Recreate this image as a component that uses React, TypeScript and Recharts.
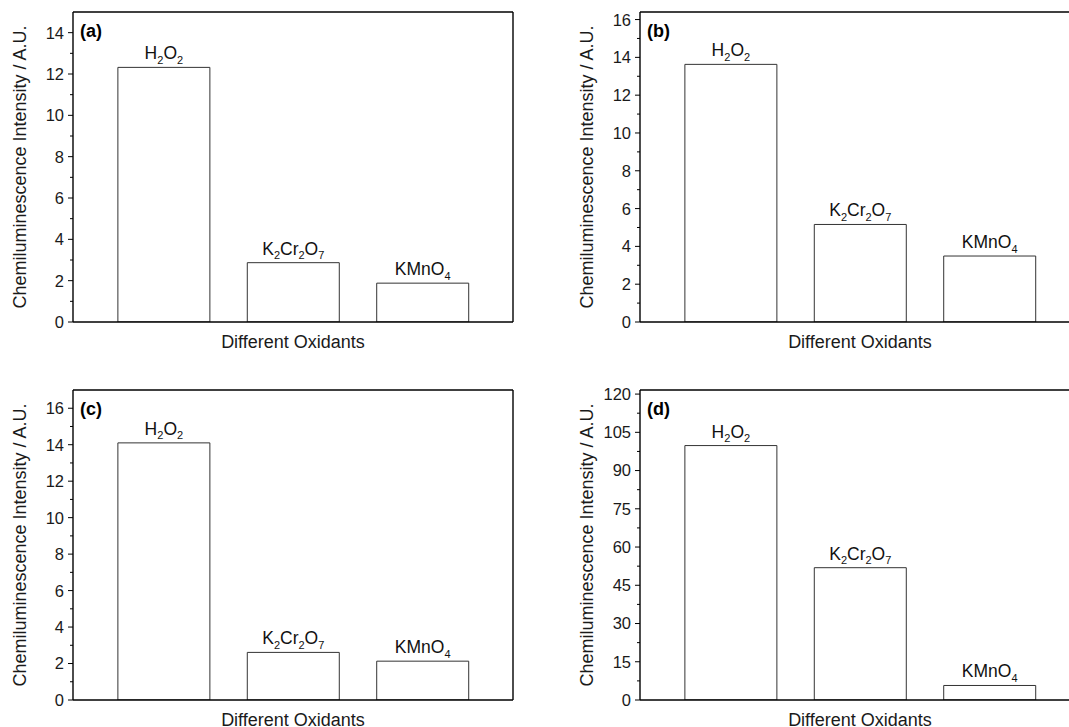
import { BarChart, Bar, XAxis, YAxis, LabelList, Label } from 'recharts'

const oxidants = ['H2O2', 'K2Cr2O7', 'KMnO4']
const slots = [1, 2, 3]

const intensityA = [12.32, 2.87, 1.88]
const intensityB = [13.63, 5.16, 3.49]
const intensityC = [14.1, 2.61, 2.13]
const intensityD = [99.8, 51.9, 5.7]

const majorA = [0, 2, 4, 6, 8, 10, 12, 14]
const minorA = [1, 3, 5, 7, 9, 11, 13]
const majorB = [0, 2, 4, 6, 8, 10, 12, 14, 16]
const minorB = [1, 3, 5, 7, 9, 11, 13, 15]
const majorC = [0, 2, 4, 6, 8, 10, 12, 14, 16]
const minorC = [1, 3, 5, 7, 9, 11, 13, 15]
const majorD = [0, 15, 30, 45, 60, 75, 90, 105, 120]
const minorD = [7.5, 22.5, 37.5, 52.5, 67.5, 82.5, 97.5, 112.5]

const xTicks = [1 / 3, 2 / 3, 1, 4 / 3, 5 / 3, 2, 7 / 3, 8 / 3, 3, 10 / 3, 11 / 3]

const TICK_LEN = 5
const TICK_GAP = 4
const AXIS = { stroke: '#000', strokeWidth: 1.4 }

function renderLeftTick(props: any, majors: number[]) {
  const { x, y, payload } = props
  const axisX = x + TICK_LEN + TICK_GAP
  const isMajor = majors.includes(payload.value)
  return (
    <g>
      <line x1={axisX - (isMajor ? TICK_LEN : 3)} x2={axisX} y1={y} y2={y} stroke="#000" strokeWidth={1} />
      {isMajor && (
        <text x={x} y={y} dy="0.36em" textAnchor="end" fontSize={16.5} fill="#1a1a1a">
          {payload.value}
        </text>
      )}
    </g>
  )
}

// digits in the formula become subscripts
function renderFormula(props: any) {
  const { x, y, width, value } = props
  const parts: string[] = String(value).match(/[A-Za-z]+|\d+/g) || []
  let sub = false
  return (
    <text x={x + width / 2} y={y - 8} textAnchor="middle" fontSize={17.5} fill="#111">
      {parts.map((p, i) => {
        const isNum = /\d/.test(p)
        const dy = isNum ? 4.5 : sub ? -4.5 : 0
        sub = isNum
        return (
          <tspan key={i} dy={dy} fontSize={isNum ? 11 : 17.5}>{p}</tspan>
        )
      })}
    </text>
  )
}

const renderYTitle = (letter: string) => (props: any) => {
  const { x, y, width, height } = props.viewBox
  const axisX = x + width
  const cx = axisX - 53
  const cy = y + height / 2
  return (
    <g>
      <text x={cx} y={cy} transform={`rotate(-90, ${cx}, ${cy})`} textAnchor="middle"
        dominantBaseline="central" fontSize={18} fill="#1a1a1a">
        Chemiluminescence Intensity / A.U.
      </text>
      <text x={axisX + 7} y={y + 25} fontSize={18} fontWeight="bold" fill="#000">({letter})</text>
    </g>
  )
}

function renderXTitle(props: any) {
  const { x, y, width } = props.viewBox
  return (
    <text x={x + width / 2} y={y + 27} textAnchor="middle" fontSize={18} fill="#1a1a1a">
      Different Oxidants
    </text>
  )
}

interface PanelProps {
  letter: string
  values: number[]
  yMax: number
  majors: number[]
  minors: number[]
  left: number
  top: number
}

function Panel({ letter, values, yMax, majors, minors, left, top }: PanelProps) {
  const data = oxidants.map((name, i) => ({ name, slot: slots[i], value: values[i] }))
  const allTicks = [...majors, ...minors].sort((a, b) => a - b)
  return (
    <div style={{ position: 'absolute', left, top }}>
      <BarChart width={567} height={370} data={data} margin={{ top: 12, right: 54, bottom: 48, left: 13 }}>
        <XAxis xAxisId="bottom" dataKey="slot" type="number" domain={[0.3, 3.7]} allowDataOverflow
          ticks={xTicks} interval={0} height={1} mirror tickSize={3} tick={false}
          axisLine={AXIS} tickLine={{ stroke: '#000' }}>
          <Label content={renderXTitle} />
        </XAxis>
        <XAxis xAxisId="top" orientation="top" dataKey="slot" type="number" domain={[0.3, 3.7]} allowDataOverflow
          ticks={xTicks} interval={0} height={1} mirror tickSize={3} tick={false}
          axisLine={AXIS} tickLine={{ stroke: '#000' }} />
        <YAxis yAxisId="left" type="number" domain={[0, yMax]} allowDataOverflow ticks={allTicks}
          interval={0} width={60} tickSize={TICK_LEN} tickMargin={TICK_GAP} tickLine={false}
          axisLine={AXIS} tick={(p: any) => renderLeftTick(p, majors)}>
          <Label content={renderYTitle(letter)} />
        </YAxis>
        <YAxis yAxisId="right" orientation="right" type="number" domain={[0, yMax]} allowDataOverflow
          ticks={allTicks} interval={0} width={1} mirror tickSize={3} tick={false}
          axisLine={AXIS} tickLine={{ stroke: '#000' }} />
        <Bar xAxisId="bottom" yAxisId="left" dataKey="value" barSize={92} fill="#fff"
          stroke="#333" strokeWidth={1} isAnimationActive={false}>
          <LabelList dataKey="name" content={renderFormula} />
        </Bar>
      </BarChart>
    </div>
  )
}

export default function App() {
  return (
    <div style={{
      position: 'absolute', left: 0, top: 0, width: 1069, height: 727, overflow: 'hidden',
      background: '#fff', fontFamily: "'Liberation Sans', Arial, sans-serif",
    }}>
      <Panel letter="a" values={intensityA} yMax={15} majors={majorA} minors={minorA} left={0} top={0} />
      <Panel letter="b" values={intensityB} yMax={16.4} majors={majorB} minors={minorB} left={567} top={0} />
      <Panel letter="c" values={intensityC} yMax={17} majors={majorC} minors={minorC} left={0} top={378} />
      <Panel letter="d" values={intensityD} yMax={121.6} majors={majorD} minors={minorD} left={567} top={378} />
    </div>
  )
}
